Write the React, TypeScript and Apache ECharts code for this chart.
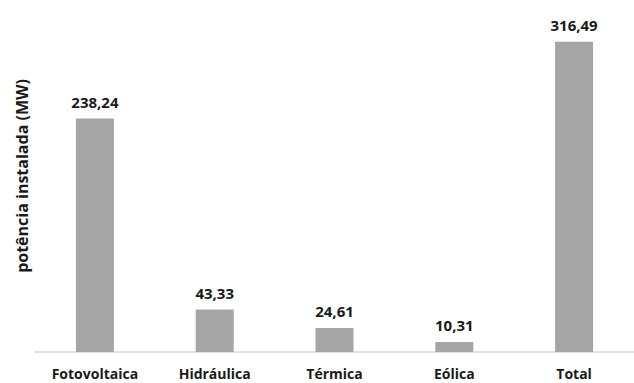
import React, { useEffect, useRef } from "react";
import * as echarts from "echarts";

const categories = ["Fotovoltaica", "Hidráulica", "Térmica", "Eólica", "Total"];
const potencia = [238.24, 43.33, 24.61, 10.31, 316.49];
const yAxisTitle = "potência instalada (MW)";

const FONT = "'Open Sans', 'Noto Sans', sans-serif";
const TEXT = "#1a1a1a";

export default function App() {
  const ref = useRef<HTMLDivElement>(null);

  useEffect(() => {
    if (!ref.current) return;
    const chart = echarts.init(ref.current, undefined, { renderer: "svg" });
    chart.setOption({
      animation: false,
      backgroundColor: "#ffffff",
      grid: { left: 35, top: 9, bottom: 31, width: 610 },
      xAxis: {
        type: "category",
        data: categories,
        axisLine: { lineStyle: { color: "#D9D9D9", width: 1.5 } },
        axisTick: { show: false },
        axisLabel: {
          interval: 0,
          color: TEXT,
          fontFamily: FONT,
          fontWeight: "bold",
          fontSize: 14,
          margin: 14,
        },
      },
      yAxis: {
        type: "value",
        min: 0,
        max: 350,
        name: yAxisTitle,
        nameLocation: "middle",
        nameGap: 5,
        nameTextStyle: {
          color: TEXT,
          fontFamily: FONT,
          fontWeight: "bold",
          fontSize: 16,
          padding: [0, 0, 0, 9],
        },
        axisLine: { show: false },
        axisTick: { show: false },
        axisLabel: { show: false },
        splitLine: { show: false },
      },
      series: [
        {
          type: "bar",
          data: potencia,
          barWidth: 38,
          itemStyle: { color: "#A5A5A5" },
          label: {
            show: true,
            position: "top",
            distance: 9,
            color: TEXT,
            fontFamily: FONT,
            fontWeight: "bold",
            fontSize: 15,
            formatter: (p: any) => Number(p.value).toFixed(2).replace(".", ","),
          },
        },
      ],
    });
    return () => chart.dispose();
  }, []);

  return (
    <div
      ref={ref}
      style={{ position: "fixed", left: 0, top: 0, width: 634, height: 383 }}
    />
  );
}
